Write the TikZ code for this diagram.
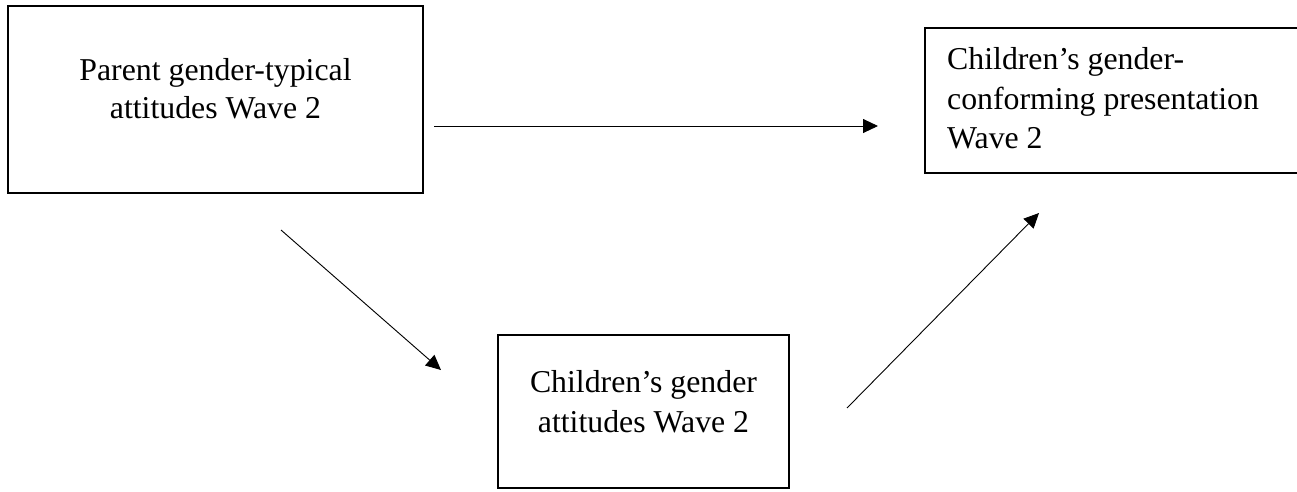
\documentclass[tikz,border=0pt]{standalone}
\usepackage{fontspec}
\setmainfont{Liberation Serif}
\usetikzlibrary{arrows.meta}
\begin{document}
\begin{tikzpicture}[x=1pt,y=-1pt,
  box/.style={draw, line width=1.7pt, inner sep=0pt, rectangle},
  txt/.style={font=\fontsize{31.8}{40}\selectfont, inner sep=0pt},
  conn/.style={line width=0.9pt, -{Triangle[length=15pt,width=14pt]}}]
\useasboundingbox (0,0) rectangle (1297,491);
% boxes
\node[box, minimum width=415pt, minimum height=187pt] (boxA) at (215.5,99.5) {};
\node[box, minimum width=385pt, minimum height=145pt] (boxB) at (1117.5,100.5) {};
\node[box, minimum width=291pt, minimum height=153pt] (boxC) at (643.5,411.5) {};
% texts
\node[txt, anchor=base] (a1) at (215.5,80) {Parent gender-typical};
\node[txt, anchor=base] (a2) at (215.5,118) {attitudes Wave 2};
\node[txt, anchor=base west] (b1) at (947,69) {Children’s gender-};
\node[txt, anchor=base west] (b2) at (947,109) {conforming presentation};
\node[txt, anchor=base west] (b3) at (947,148.5) {Wave 2};
\node[txt, anchor=base] (c1) at (643.5,392) {Children’s gender};
\node[txt, anchor=base] (c2) at (643.5,432) {attitudes Wave 2};
% connectors
\coordinate (h1) at (434,126);
\coordinate (h2) at (878,126);
\coordinate (d1) at (281,230);
\coordinate (d2) at (441,370);
\coordinate (e1) at (847,408);
\coordinate (e2) at (1039,213);
\draw[conn] (h1) -- (h2);
\draw[conn] (d1) -- (d2);
\draw[conn] (e1) -- (e2);
\end{tikzpicture}
\end{document}
